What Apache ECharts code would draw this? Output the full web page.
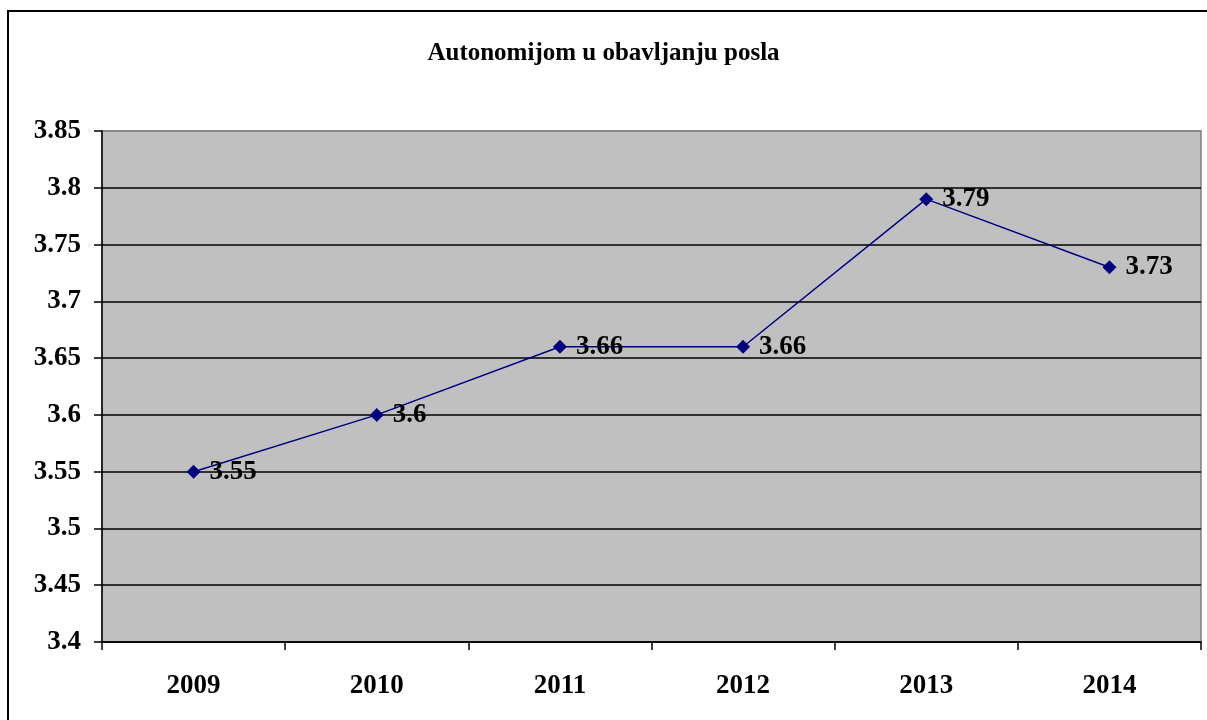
<!DOCTYPE html>
<html>
<head>
<meta charset="utf-8">
<script src="https://cdn.jsdelivr.net/npm/echarts@6/dist/echarts.min.js"></script>
<style>
  html, body { margin: 0; padding: 0; background: #fff; }
  #chart { width: 1207px; height: 720px; }
</style>
</head>
<body>
<div id="chart"></div>
<script>
// podaci
const years = ["2009", "2010", "2011", "2012", "2013", "2014"];
const values = [3.55, 3.6, 3.66, 3.66, 3.79, 3.73];
const chartTitle = "Autonomijom u obavljanju posla";

const serif = "'Liberation Serif', 'Times New Roman', serif";

// gornja linija mreze je siva (okvir), ostale crne
const gridColors = ["#000", "#000", "#000", "#000", "#000", "#000", "#000", "#000", "#000", "#808080"];

const chart = echarts.init(document.getElementById("chart"));
const option = {
  backgroundColor: "#fff",
  animation: false,
  title: {
    text: chartTitle,
    left: "center",
    top: 36,
    textStyle: { fontFamily: serif, fontWeight: "bold", fontSize: 25, color: "#000" },
  },
  grid: { left: 102, right: 6, top: 131, bottom: 78, backgroundColor: "#c0c0c0", show: true, borderColor: "#808080", borderWidth: 1.5 },
  xAxis: {
    type: "category",
    data: years,
    boundaryGap: true,
    axisLine: { lineStyle: { color: "#000", width: 1.5 } },
    axisTick: { show: true, length: 8, lineStyle: { color: "#000", width: 1.5 } },
    axisLabel: { margin: 31, fontFamily: serif, fontWeight: "bold", fontSize: 27, color: "#000" },
  },
  yAxis: {
    type: "value",
    min: 3.4,
    max: 3.85,
    interval: 0.05,
    axisLine: { show: true, lineStyle: { color: "#000", width: 1.5 } },
    axisTick: { show: true, length: 8, lineStyle: { color: "#000", width: 1.5 } },
    splitLine: { lineStyle: { color: gridColors, width: 1.5 } },
    axisLabel: {
      margin: 21,
      fontFamily: serif, fontWeight: "bold", fontSize: 27, color: "#000",
      formatter: (v) => String(Math.round(v * 100) / 100),
    },
  },
  series: [
    {
      type: "line",
      data: values,
      symbol: "diamond",
      symbolSize: 14,
      lineStyle: { color: "#000080", width: 1.5 },
      itemStyle: { color: "#000080" },
      label: {
        show: true,
        position: "right",
        distance: 9,
        fontFamily: serif, fontWeight: "bold", fontSize: 27, color: "#000",
      },
    },
  ],
  graphic: [
    {
      type: "rect",
      shape: { x: 8, y: 11, width: 1220, height: 740 },
      style: { fill: "none", stroke: "#000", lineWidth: 2 },
      silent: true,
    },
  ],
};
chart.setOption(option);
</script>
</body>
</html>
